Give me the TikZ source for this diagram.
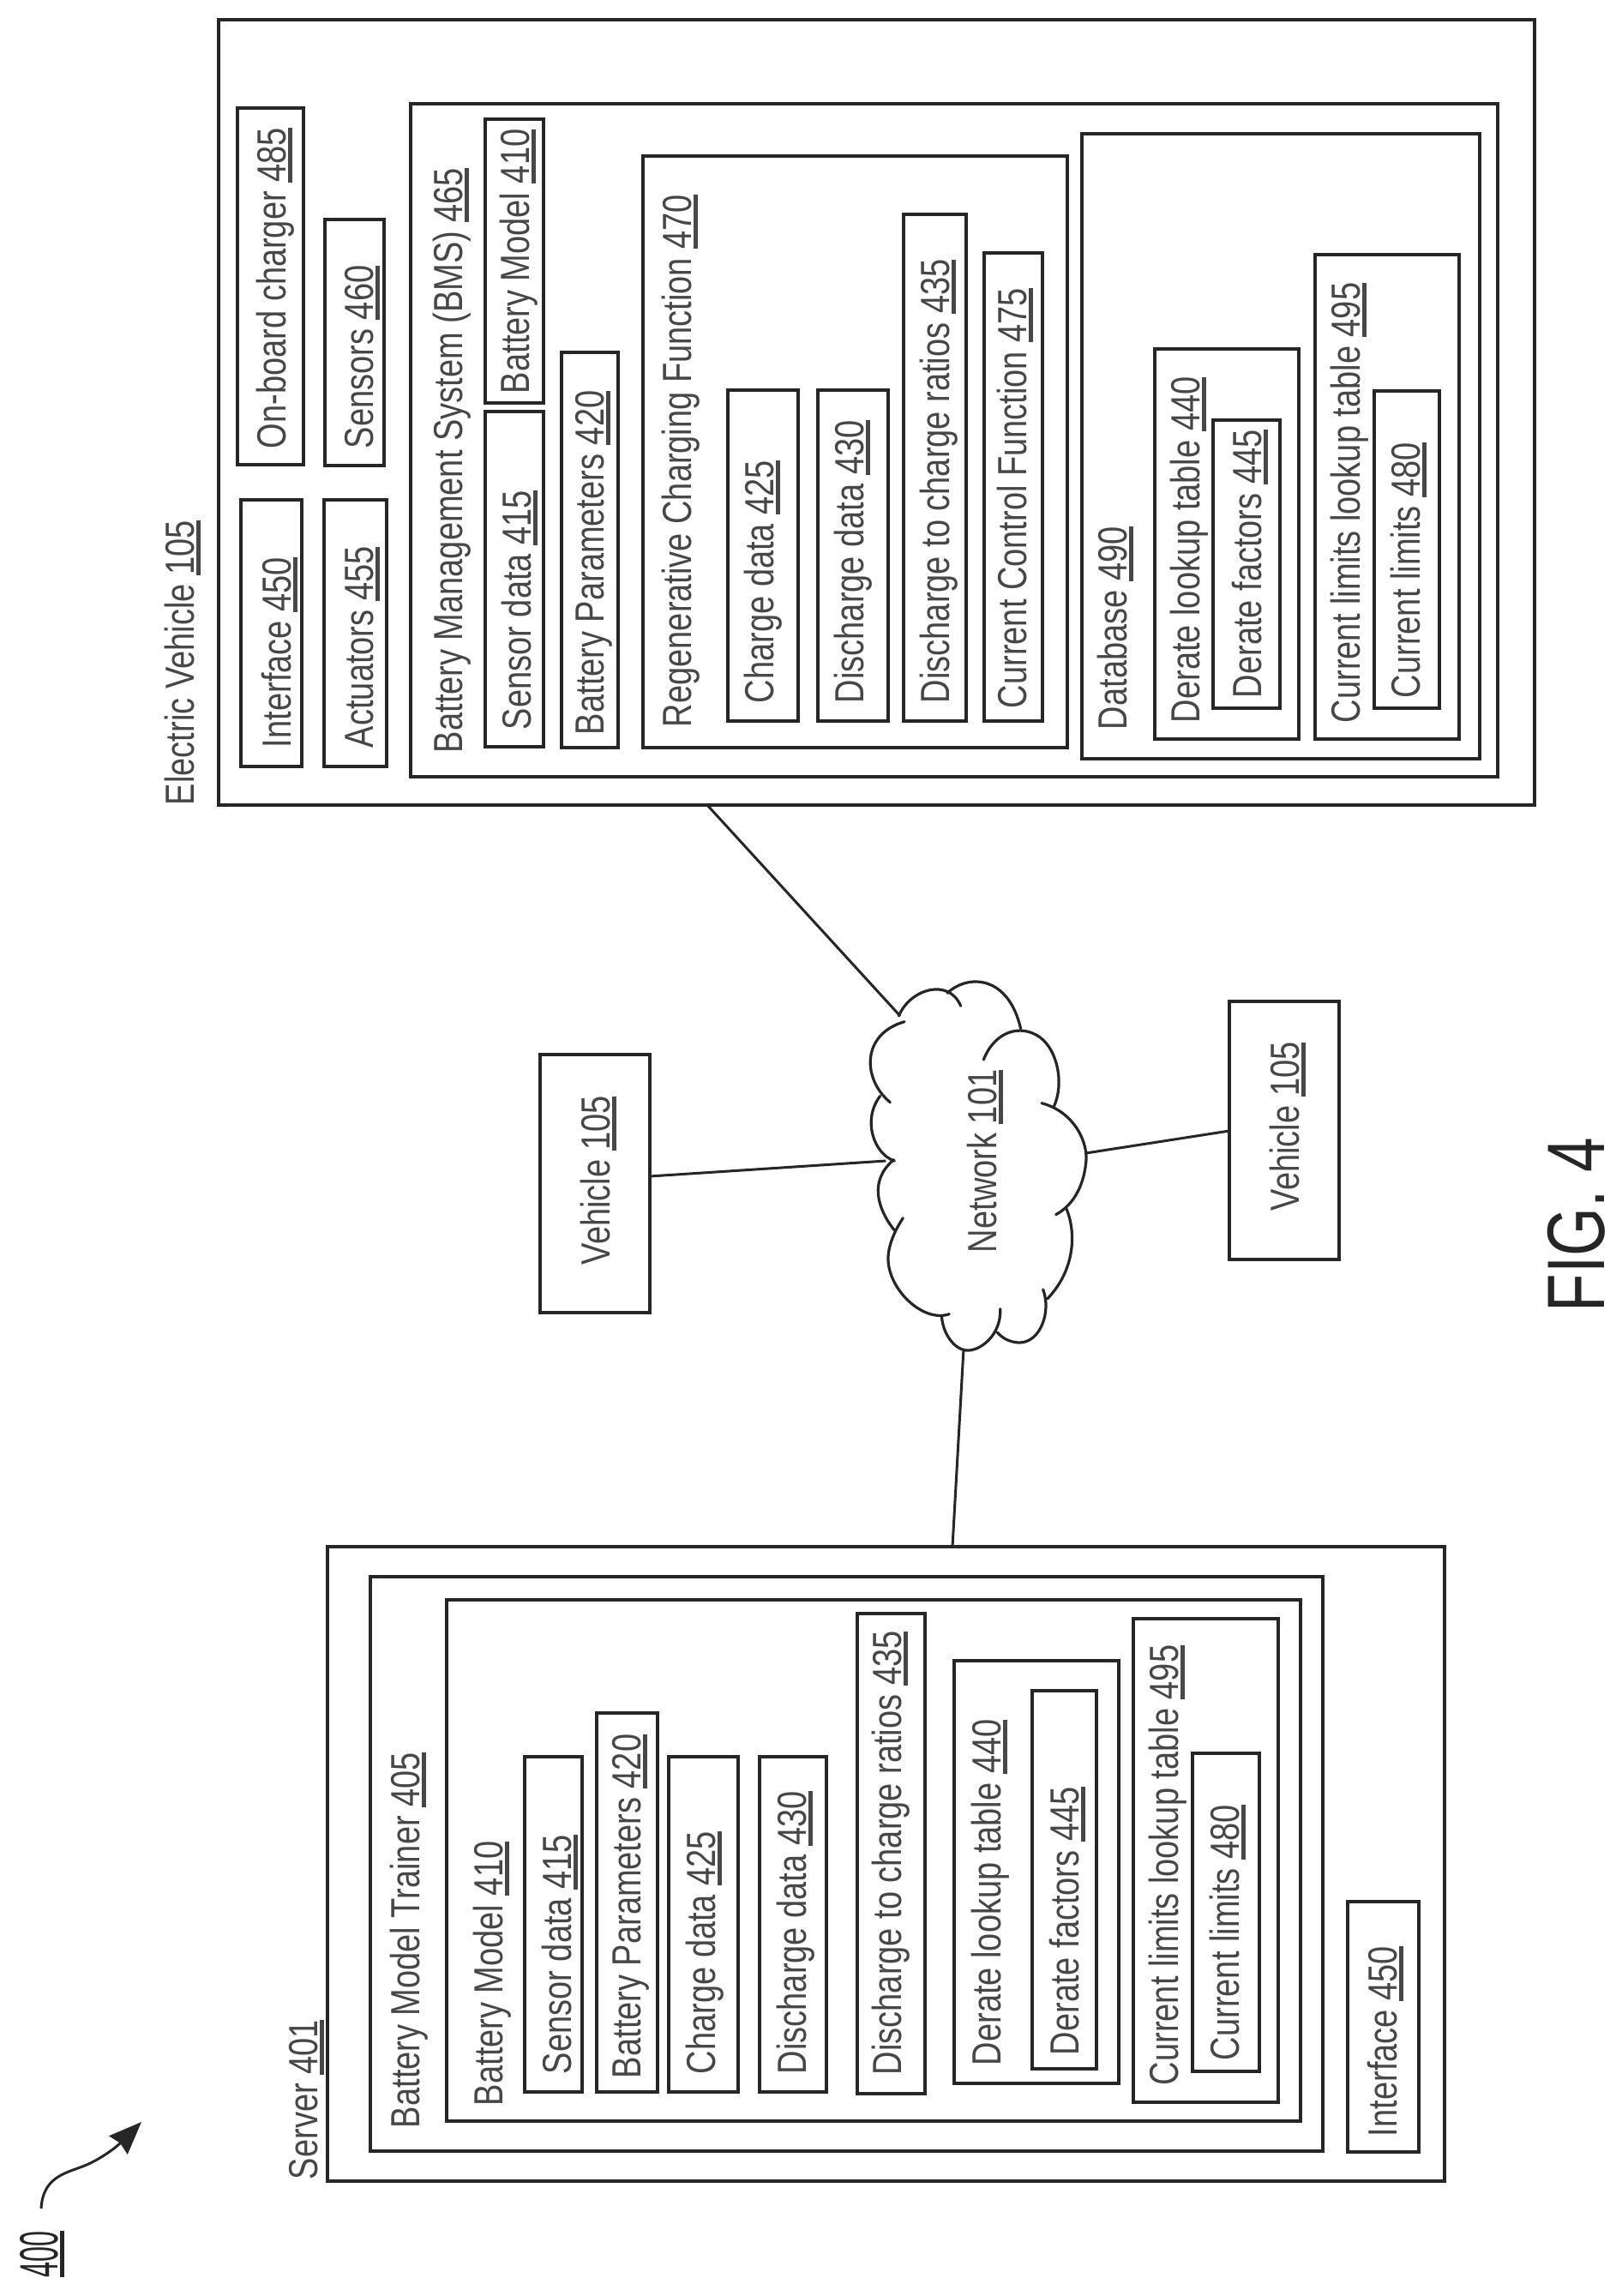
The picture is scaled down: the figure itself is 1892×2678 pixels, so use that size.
\documentclass[tikz,border=0pt]{standalone}
\usepackage{fontspec}
\setmainfont[FakeStretch=0.8]{Liberation Sans}
\usetikzlibrary{arrows.meta}
\definecolor{ink}{gray}{0.15}
\definecolor{txt}{gray}{0.28}
\newcommand{\un}[1]{\setbox0=\hbox{#1}\rlap{\rule[-7.5pt]{\wd0}{4.5pt}}\box0}
\newcommand{\bx}[5]{\node[boxnode, anchor=north west, minimum width={(#4-#2)*1pt}, minimum height={(#5-#3)*1pt}] (#1) at (#2,#3) {};}
\newcommand{\tx}[5]{\node[lab] (#1) at (#2,#3) {#4 \un{#5}};}
\tikzset{
  boxnode/.style={draw=ink, line width=4pt, inner sep=0pt, outer sep=0pt},
  lab/.style={rotate=90, anchor=base west, inner sep=0pt, outer sep=0pt, text=txt, font=\fontsize{47.5}{50}\selectfont},
  link/.style={draw=ink, line width=3pt},
  cloudline/.style={draw=ink, line width=3.2pt, line cap=round}
}
\begin{document}
\begin{tikzpicture}[x=1pt,y=-1pt]
\useasboundingbox (0,0) rectangle (1892,2678);
\fill[white] (0,0) rectangle (1892,2678);
% Electric vehicle
\bx{ev}{255}{23}{1790}{939}
\tx{evt}{226}{939}{Electric Vehicle}{105}
\bx{obc}{277}{126}{354}{542}
\tx{obct}{333}{523}{On-board charger}{485}
\bx{evif}{281}{583}{352}{894}
\tx{eviftx}{339}{872}{Interface}{450}
\bx{sens}{379}{256}{448}{543}
\tx{senst}{435}{523}{Sensors}{460}
\bx{act}{378}{583}{451}{894}
\tx{actt}{435}{872}{Actuators}{455}
\bx{bms}{479}{121}{1747}{906}
\tx{bmst}{539}{878}{Battery Management System (BMS)}{465}
\bx{evbm}{566}{139}{634}{470}
\tx{evbmt}{617}{459}{Battery Model}{410}
\bx{evsd}{566}{480}{634}{871}
\tx{evsdt}{619}{851}{Sensor data}{415}
\bx{evbp}{655}{411}{721}{872}
\tx{evbpt}{704}{857}{Battery Parameters}{420}
\bx{regen}{750}{182}{1245}{872}
\tx{regent}{806}{848}{Regenerative Charging Function}{470}
\bx{evcd}{849}{455}{931}{841}
\tx{evcdt}{902}{820}{Charge data}{425}
\bx{evdd}{954}{455}{1036}{841}
\tx{evddt}{1007}{820}{Discharge data}{430}
\bx{evdr}{1054}{250}{1127}{841}
\tx{evdrt}{1107}{820}{Discharge to charge ratios}{435}
\bx{ccf}{1148}{295}{1216}{841}
\tx{ccft}{1197}{826}{Current Control Function}{475}
\bx{db}{1262}{156}{1726}{885}
\tx{dbt}{1314}{851}{Database}{490}
\bx{evdl}{1347}{407}{1515}{862}
\tx{evdlt}{1399}{843}{Derate lookup table}{440}
\bx{evdf}{1415}{490}{1493}{826}
\tx{evdft}{1471}{814}{Derate factors}{445}
\bx{evcl}{1534}{297}{1702}{862}
\tx{evclt}{1586}{843}{Current limits lookup table}{495}
\bx{evlim}{1603}{456}{1679}{826}
\tx{evlimt}{1656}{814}{Current limits}{480}
% Vehicles
\bx{vl}{630}{1230}{758}{1531}
\tx{vlt}{711}{1475}{Vehicle}{105}
\bx{vr}{1434}{1168}{1562}{1469}
\tx{vrt}{1515}{1412}{Vehicle}{105}
% Server
\bx{srv}{382}{1804}{1685}{2544}
\tx{srvt}{370}{2542}{Server}{401}
\bx{trn}{432}{1839}{1543}{2509}
\tx{trnt}{489}{2482}{Battery Model Trainer}{405}
\bx{sbm}{521}{1866}{1517}{2474}
\tx{sbmt}{586}{2456}{Battery Model}{410}
\bx{ssd}{612}{2049}{679}{2440}
\tx{ssdt}{666}{2419}{Sensor data}{415}
\bx{sbp}{696}{1998}{767}{2440}
\tx{sbpt}{747}{2424}{Battery Parameters}{420}
\bx{scd}{780}{2049}{861}{2440}
\tx{scdt}{834}{2419}{Charge data}{425}
\bx{sdd}{886}{2049}{964}{2440}
\tx{sddt}{940}{2419}{Discharge data}{430}
\bx{sdr}{1000}{1882}{1079}{2442}
\tx{sdrt}{1051}{2420}{Discharge to charge ratios}{435}
\bx{sdl}{1113}{1937}{1305}{2430}
\tx{sdlt}{1167}{2409}{Derate lookup table}{440}
\bx{sdf}{1204}{1972}{1279}{2413}
\tx{sdft}{1258}{2397}{Derate factors}{445}
\bx{scl}{1322}{1888}{1491}{2452}
\tx{sclt}{1374}{2432}{Current limits lookup table}{495}
\bx{slim}{1391}{2045}{1469}{2416}
\tx{slimt}{1445}{2403}{Current limits}{480}
\bx{sif}{1572}{2218}{1655}{2510}
\tx{sift}{1629}{2492}{Interface}{450}
% Cloud
\begin{scope}[shift={(1000,1130)}, x=0.33333pt, y=-0.33333pt]
\draw[cloudline] (145,165) .. controls (185,70) and (320,30) .. (362,130);
\draw[cloudline] (315,85) .. controls (390,15) and (530,25) .. (572,210);
\draw[cloudline] (442,318) .. controls (480,220) and (570,190) .. (640,240) .. controls (700,285) and (725,400) .. (688,482);
\draw[cloudline] (645,470) .. controls (760,500) and (810,610) .. (800,680) .. controls (790,770) and (750,830) .. (695,860);
\draw[cloudline] (732,840) .. controls (765,920) and (765,1050) .. (665,1155);
\draw[cloudline] (650,1122) .. controls (680,1200) and (640,1310) .. (565,1308) .. controls (530,1306) and (505,1290) .. (490,1272);
\draw[cloudline] (500,1190) .. controls (505,1280) and (430,1340) .. (380,1335) .. controls (340,1330) and (300,1280) .. (295,1215);
\draw[cloudline] (322,1208) .. controls (230,1240) and (105,1120) .. (108,1010) .. controls (110,960) and (135,910) .. (160,872);
\draw[cloudline] (130,915) .. controls (70,840) and (40,740) .. (128,668);
\draw[cloudline] (130,672) .. controls (60,650) and (15,530) .. (80,445);
\draw[cloudline] (115,467) .. controls (20,390) and (10,230) .. (165,185);
\coordinate (nettl) at (150,165);
\coordinate (netl) at (100,672);
\coordinate (netr) at (800,645);
\coordinate (netb) at (372,1330);
\end{scope}
\tx{nett}{1162}{1461}{Network}{101}
% Connectors
\coordinate (evport) at (825,939);
\coordinate (vlport) at (758,1372);
\coordinate (vrport) at (1434,1319);
\coordinate (srvport) at (1111,1804);
\draw[link] (evport) -- (nettl);
\draw[link] (vlport) -- (netl);
\draw[link] (vrport) -- (netr);
\draw[link] (srvport) -- (netb);
% Figure label
\node[lab, font=\fontsize{95}{100}\selectfont, text=ink] (figl) at (1871,1530) {\scalebox{0.96}[1]{FIG. 4}};
% 400 reference
\node[lab, font=\fontsize{63}{66}\selectfont, text=ink] (refn) at (67,2656) {\scalebox{0.64}[1]{\un{400}}};
\coordinate (arrs) at (48,2576);
\coordinate (arrm) at (96,2527);
\coordinate (arrt) at (165,2475);
\draw[draw=ink, line width=3pt, -{Stealth[length=38pt,width=30pt,inset=3pt]}] (arrs) .. controls (50,2540) and (75,2535) .. (arrm) .. controls (115,2520) and (135,2505) .. (arrt);
\end{tikzpicture}
\end{document}
